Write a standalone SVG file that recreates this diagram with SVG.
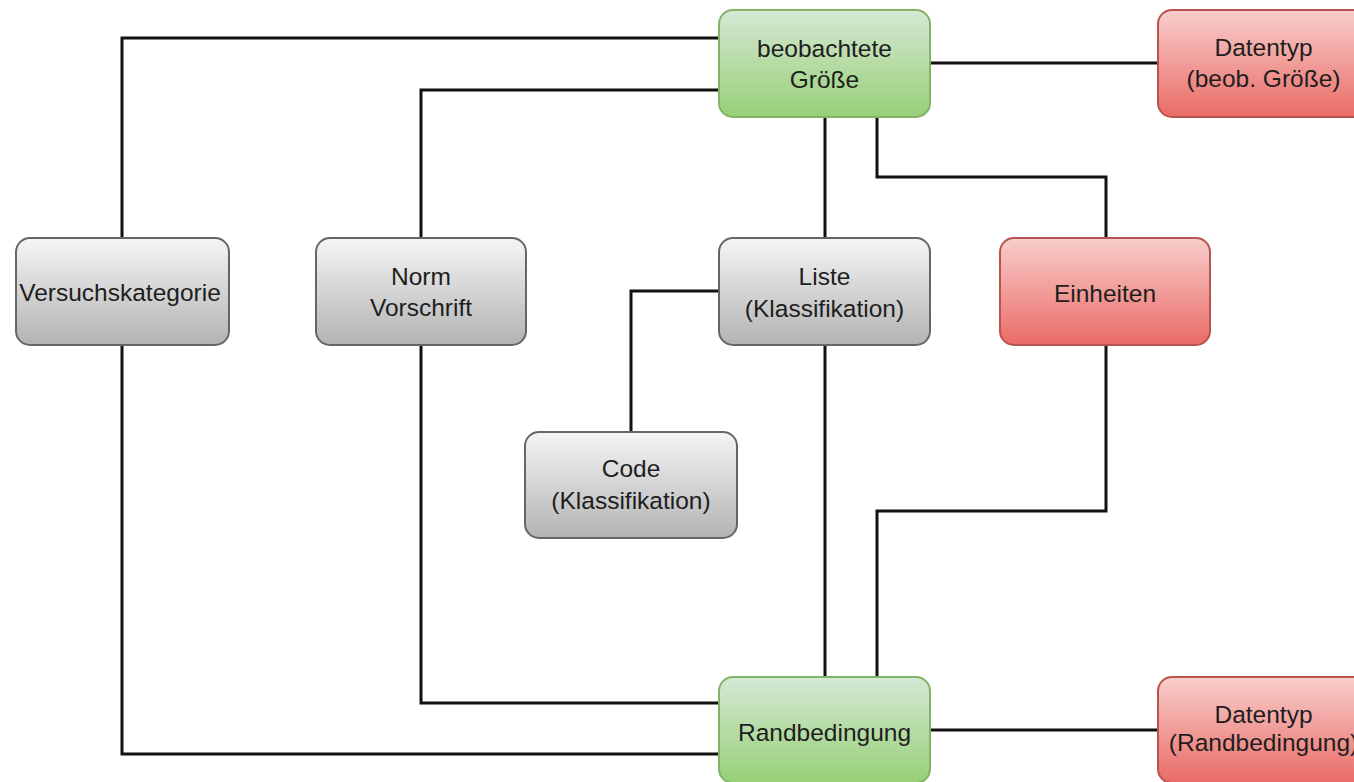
<svg xmlns="http://www.w3.org/2000/svg" width="1354" height="782" viewBox="0 0 1354 782">
  <style>
    .edge { fill: none; stroke: #111; stroke-width: 3; stroke-linejoin: miter; }
    .box { stroke-width: 2; }
    .gray { fill: url(#gGray); stroke: #666; }
    .green { fill: url(#gGreen); stroke: #82b366; }
    .red { fill: url(#gRed); stroke: #b85450; }
    text { font-family: "Liberation Sans", Arial, sans-serif; font-size: 24.5px; text-anchor: middle; fill: #1e1e1e; }
  </style>
  <defs>
    <linearGradient id="gGray" x1="0" y1="0" x2="0" y2="1">
      <stop offset="0" stop-color="#f5f5f5"/>
      <stop offset="1" stop-color="#b3b3b3"/>
    </linearGradient>
    <linearGradient id="gGreen" x1="0" y1="0" x2="0" y2="1">
      <stop offset="0" stop-color="#d5e8d4"/>
      <stop offset="1" stop-color="#97d077"/>
    </linearGradient>
    <linearGradient id="gRed" x1="0" y1="0" x2="0" y2="1">
      <stop offset="0" stop-color="#f8cecc"/>
      <stop offset="1" stop-color="#ea6b66"/>
    </linearGradient>
  </defs>
  <rect width="1354" height="782" fill="#ffffff"/>

  <g id="connectors">
    <polyline class="edge" points="122,238 122,38 719,38"/>
    <polyline class="edge" points="421,238 421,90 719,90"/>
    <polyline class="edge" points="825,117 825,238"/>
    <polyline class="edge" points="877,117 877,177 1106,177 1106,238"/>
    <polyline class="edge" points="930,63 1158,63"/>
    <polyline class="edge" points="719,291 631,291 631,432"/>
    <polyline class="edge" points="825,345 825,677"/>
    <polyline class="edge" points="1106,345 1106,511 877,511 877,677"/>
    <polyline class="edge" points="421,345 421,703 719,703"/>
    <polyline class="edge" points="122,345 122,754 719,754"/>
    <polyline class="edge" points="930,730 1158,730"/>
  </g>

  <g id="beobachtete-groesse">
    <rect class="box green" x="719" y="10" width="211" height="107" rx="14"/>
    <text x="824.5" y="57">beobachtete</text>
    <text x="824.5" y="88">Größe</text>
  </g>
  <g id="datentyp-beob">
    <rect class="box red" x="1158" y="10" width="211" height="107" rx="14"/>
    <text x="1263.5" y="56">Datentyp</text>
    <text x="1263.5" y="87">(beob. Größe)</text>
  </g>
  <g id="versuchskategorie">
    <rect class="box gray" x="16" y="238" width="213" height="107" rx="14"/>
    <text x="120" y="301">Versuchskategorie</text>
  </g>
  <g id="norm-vorschrift">
    <rect class="box gray" x="316" y="238" width="210" height="107" rx="14"/>
    <text x="421" y="285">Norm</text>
    <text x="421" y="316">Vorschrift</text>
  </g>
  <g id="liste">
    <rect class="box gray" x="719" y="238" width="211" height="107" rx="14"/>
    <text x="824.5" y="285">Liste</text>
    <text x="824.5" y="317">(Klassifikation)</text>
  </g>
  <g id="einheiten">
    <rect class="box red" x="1000" y="238" width="210" height="107" rx="14"/>
    <text x="1105" y="302">Einheiten</text>
  </g>
  <g id="code">
    <rect class="box gray" x="525" y="432" width="212" height="106" rx="14"/>
    <text x="631" y="477">Code</text>
    <text x="631" y="509">(Klassifikation)</text>
  </g>
  <g id="randbedingung">
    <rect class="box green" x="719" y="677" width="211" height="106" rx="14"/>
    <text x="824.5" y="741">Randbedingung</text>
  </g>
  <g id="datentyp-rand">
    <rect class="box red" x="1158" y="677" width="211" height="106" rx="14"/>
    <text x="1263.5" y="723">Datentyp</text>
    <text x="1263.5" y="751">(Randbedingung)</text>
  </g>
</svg>
